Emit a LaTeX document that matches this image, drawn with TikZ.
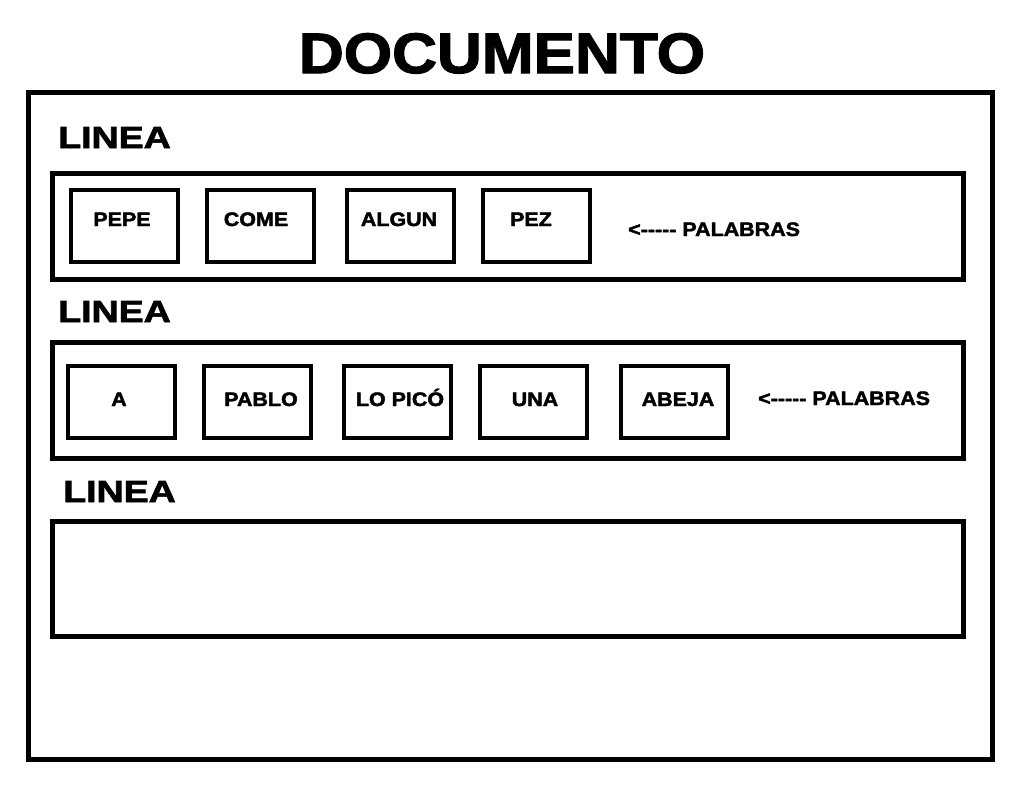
\documentclass[tikz,border=0pt]{standalone}
\usepackage{fontspec}
\setmainfont{Liberation Sans}
\newfontfamily\heavyfont{Liberation Sans Bold}[FakeBold=2]
\usepackage{tikz}
\usetikzlibrary{positioning}

\begin{document}
\begin{tikzpicture}[x=1pt,y=-1pt,
                    frame/.style={draw,line width=5pt},
                    linebox/.style={draw,line width=5pt,minimum width=911pt,inner sep=0pt},
                    wordbox/.style={draw,line width=4.5pt,minimum width=107pt,minimum height=72pt,inner sep=0pt},
                    title/.style={anchor=base,inner sep=0pt,xscale=1.09,font=\fontsize{57}{60}\selectfont\heavyfont},
                    linelabel/.style={anchor=base west,inner sep=0pt,xscale=1.23,font=\fontsize{30.5}{33}\selectfont\heavyfont},
                    word/.style={anchor=base,inner sep=0pt,xscale=1.1,font=\fontsize{19.5}{22}\selectfont\heavyfont}]

  \useasboundingbox (0,0) rectangle (1027,796);

  \node[title] (doc) at (502,73) {DOCUMENTO};
  \node[frame,minimum width=964pt,minimum height=667pt,inner sep=0pt] (page) at (510.5,426) {};

  % first line
  \node[linelabel] (lab1) at (58,148) {LINEA};
  \node[linebox,minimum height=106pt] (line1) at (508,226) {};
  \node[wordbox] (b11) at (124.5,226) {};
  \node[wordbox] (b12) at (260.5,226) {};
  \node[wordbox] (b13) at (400.5,226) {};
  \node[wordbox] (b14) at (536.5,226) {};
  \node[word] (w11) at (122,226) {PEPE};
  \node[word] (w12) at (256,226) {COME};
  \node[word] (w13) at (399,226) {ALGUN};
  \node[word] (w14) at (531,226) {PEZ};
  \node[word,anchor=base west] (pal1) at (628,236) {<-{}-{}-{}-{}- PALABRAS};

  % second line
  \node[linelabel] (lab2) at (58,322) {LINEA};
  \node[linebox,minimum height=116pt] (line2) at (508,400) {};
  \node[wordbox] (b21) at (121.5,402) {};
  \node[wordbox] (b22) at (257.5,402) {};
  \node[wordbox] (b23) at (397.5,402) {};
  \node[wordbox] (b24) at (533.5,402) {};
  \node[wordbox] (b25) at (674.5,402) {};
  \node[word] (w21) at (119,406) {A};
  \node[word] (w22) at (261,406) {PABLO};
  \node[word] (w23) at (400,406) {LO PICÓ};
  \node[word] (w24) at (535,406) {UNA};
  \node[word] (w25) at (678,406) {ABEJA};
  \node[word,anchor=base west] (pal2) at (758,405) {<-{}-{}-{}-{}- PALABRAS};

  % third line
  \node[linelabel] (lab3) at (63,502) {LINEA};
  \node[linebox,minimum height=115pt] (line3) at (508,579) {};

\end{tikzpicture}
\end{document}
